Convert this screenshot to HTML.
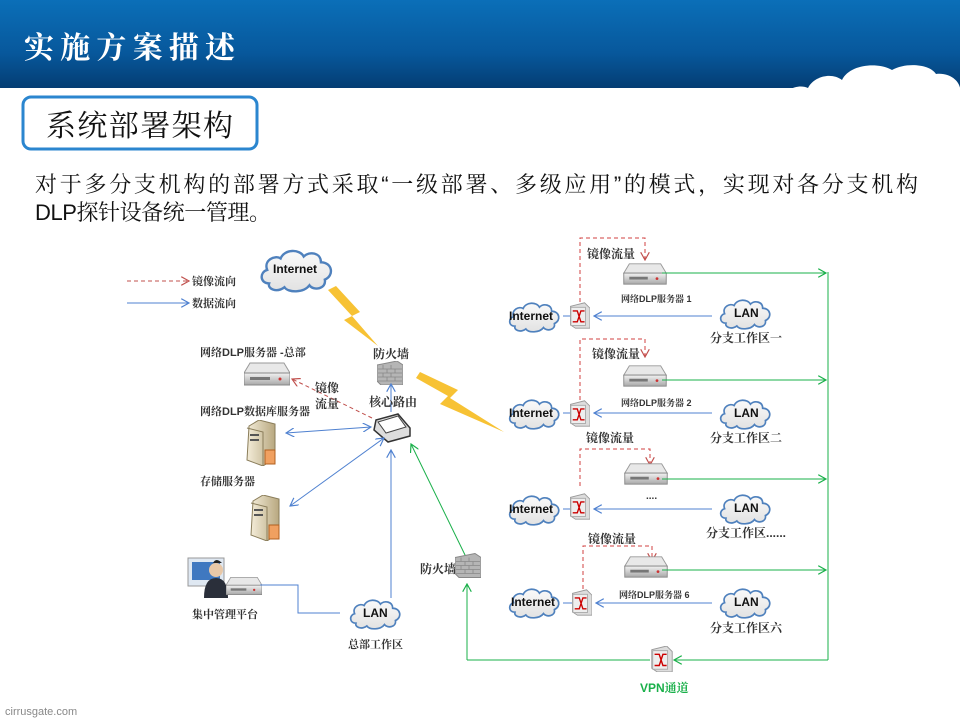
<!DOCTYPE html>
<html><head><meta charset="utf-8"><style>
html,body{margin:0;padding:0;background:#fff;width:960px;height:720px;overflow:hidden}
svg{display:block}
text{font-family:"Liberation Sans","Noto Serif CJK SC","Noto Sans CJK SC",serif}
.s{font-size:11px;font-weight:bold;fill:#333}
.m{font-size:12px;font-weight:bold;fill:#333}
.e{font-family:"Liberation Sans",sans-serif;font-weight:bold;font-size:12px;fill:#111}
</style></head><body>
<svg width="960" height="720" viewBox="0 0 960 720" xmlns="http://www.w3.org/2000/svg">
<defs>
<linearGradient id="hd" x1="0" y1="0" x2="0" y2="1"><stop offset="0" stop-color="#0b6fb8"/><stop offset="0.6" stop-color="#07589c"/><stop offset="1" stop-color="#043d73"/></linearGradient>
<linearGradient id="cl" x1="0" y1="0" x2="0" y2="1"><stop offset="0" stop-color="#fafafa"/><stop offset="1" stop-color="#e2e2e2"/></linearGradient>
<linearGradient id="sv" x1="0" y1="0" x2="0" y2="1"><stop offset="0" stop-color="#f2f2f2"/><stop offset="1" stop-color="#a8a8a8"/></linearGradient>
<linearGradient id="tw" x1="0" y1="0" x2="1" y2="0"><stop offset="0" stop-color="#f3ecd8"/><stop offset="1" stop-color="#b8a880"/></linearGradient>
<symbol id="cloud" viewBox="0 0 80 50"><path d="M12 40 C2 40 2 28 10 26 C6 16 18 10 24 14 C28 4 44 4 48 12 C54 6 66 8 66 18 C78 18 80 32 70 36 C72 46 58 48 54 42 C48 50 32 50 28 44 C20 50 10 46 12 40 Z" fill="url(#cl)" stroke="#4f81bd" stroke-width="2.5"/></symbol>
<symbol id="server" viewBox="0 0 46 26"><path d="M6 2 L40 2 L46 12 L0 12 Z" fill="#e8e8e8" stroke="#999"/><rect x="0" y="12" width="46" height="12" fill="url(#sv)" stroke="#888"/><rect x="6" y="16" width="20" height="3" fill="#777"/><circle cx="36" cy="18" r="1.5" fill="#c33"/></symbol>
<symbol id="tower" viewBox="0 0 32 46"><path d="M4 6 L14 0 L30 4 L30 38 L18 46 L2 40 Z" fill="url(#tw)" stroke="#8a7d5a"/><path d="M2 8 L18 12 L18 46" fill="none" stroke="#8a7d5a"/><rect x="5" y="14" width="9" height="2" fill="#555"/><rect x="5" y="19" width="9" height="2" fill="#555"/><rect x="20" y="30" width="10" height="14" fill="#f0a060" stroke="#b06020"/></symbol>
<symbol id="sw" viewBox="0 0 22 28"><path d="M0 4 L16 0 L22 6 L22 28 L6 28 L0 24 Z" fill="#ddd" stroke="#999"/><rect x="1" y="5" width="16" height="20" fill="#eee" stroke="#aaa"/><path d="M3 9 L8 9 L12 21 L16 21 M3 21 L8 21 L12 9 L16 9" fill="none" stroke="#c00" stroke-width="1.5"/></symbol>
<symbol id="fw" viewBox="0 0 26 24"><path d="M0 4 L20 0 L26 4 L26 24 L4 24 L0 20Z" fill="#b5b5b5" stroke="#888"/><g stroke="#888" stroke-width="0.8"><path d="M1 8H25M1 12H25M1 16H25M1 20H25M6 4V8M14 4V8M10 8V12M18 8V12M6 12V16M14 12V16M10 16V20M18 16V20"/></g></symbol>
<marker id="ab" viewBox="0 0 10 10" refX="9" refY="5" markerWidth="9" markerHeight="9" orient="auto-start-reverse"><path d="M0 0 L9 5 L0 10" fill="none" stroke="#4f81d0" stroke-width="1.3"/></marker>
<marker id="ag" viewBox="0 0 10 10" refX="9" refY="5" markerWidth="9" markerHeight="9" orient="auto-start-reverse"><path d="M0 0 L9 5 L0 10" fill="none" stroke="#1ab04a" stroke-width="1.3"/></marker>
<marker id="ar" viewBox="0 0 10 10" refX="9" refY="5" markerWidth="9" markerHeight="9" orient="auto-start-reverse"><path d="M0 0 L9 5 L0 10" fill="none" stroke="#c0504d" stroke-width="1.3"/></marker>
</defs>

<rect x="0" y="0" width="960" height="88" fill="url(#hd)"/>
<path d="M782 100 C784 88 800 84 808 88 C814 76 832 72 842 80 C850 64 878 62 892 70 C906 62 930 64 936 74 C952 72 962 84 960 92 L960 100 Z" fill="#fff"/>
<text x="24" y="58" font-size="30" font-weight="bold" fill="#fff" textLength="211" lengthAdjust="spacing">实施方案描述</text>

<rect x="23" y="97" width="234" height="52" rx="8" fill="#fff" stroke="#2b86cf" stroke-width="3"/>
<text x="46" y="136" font-size="30" fill="#111" textLength="187" lengthAdjust="spacing">系统部署架构</text>
<text x="35" y="192" font-size="22" fill="#111" textLength="883" lengthAdjust="spacing">对于多分支机构的部署方式采取“一级部署、多级应用”的模式，实现对各分支机构</text>
<text x="35" y="220" font-size="22" fill="#111" textLength="236" lengthAdjust="spacing">DLP探针设备统一管理。</text>

<!-- legend -->
<line x1="127" y1="281" x2="189" y2="281" stroke="#c0504d" stroke-dasharray="4,3" marker-end="url(#ar)"/>
<line x1="127" y1="303" x2="189" y2="303" stroke="#4f81d0" marker-end="url(#ab)"/>
<text x="192" y="285" class="s">镜像流向</text>
<text x="192" y="307" class="s">数据流向</text>

<!-- HQ -->
<use href="#cloud" x="256" y="245" width="80" height="48"/>
<text x="273" y="273" class="e">Internet</text>
<path d="M328 290 L336 286 L360 312 L352 316 L378 346 L344 320 L352 316 Z" fill="#f7c234"/>
<path d="M416 378 L420 372 L458 390 L450 398 L504 432 L440 404 L448 396 Z" fill="#f7c234"/>
<text x="373" y="358" class="m">防火墙</text>
<use href="#fw" x="377" y="361" width="26" height="24"/>
<line x1="391" y1="412" x2="391" y2="384" stroke="#4f81d0" marker-end="url(#ab)"/>
<text x="369" y="406" class="m">核心路由</text>
<path d="M376 420 L398 414 L410 428 L410 436 L388 442 L374 430 Z" fill="#ddd" stroke="#333" stroke-width="1.5"/>
<path d="M378 422 L398 416 L406 427 L386 433 Z" fill="#fff" stroke="#444"/>
<text x="200" y="356" class="s">网络DLP服务器 -总部</text>
<use href="#server" x="244" y="361" width="46" height="26"/>
<line x1="372" y1="418" x2="292" y2="379" stroke="#c0504d" stroke-dasharray="4,3" marker-end="url(#ar)"/>
<text x="315" y="392" class="m">镜像</text>
<text x="315" y="408" class="m">流量</text>
<text x="200" y="415" class="s">网络DLP数据库服务器</text>
<use href="#tower" x="245" y="420" width="32" height="46"/>
<line x1="286" y1="433" x2="371" y2="427" stroke="#4f81d0" marker-start="url(#ab)" marker-end="url(#ab)"/>
<text x="200" y="485" class="s">存储服务器</text>
<use href="#tower" x="249" y="495" width="32" height="46"/>
<line x1="290" y1="506" x2="384" y2="438" stroke="#4f81d0" marker-start="url(#ab)" marker-end="url(#ab)"/>
<line x1="391" y1="598" x2="391" y2="450" stroke="#4f81d0" marker-end="url(#ab)"/>
<!-- admin -->
<rect x="188" y="558" width="36" height="28" fill="#dfe8f2" stroke="#999"/>
<rect x="192" y="562" width="28" height="18" fill="#3f78c0"/>
<circle cx="216" cy="570" r="7" fill="#e8c8a8"/>
<path d="M213 563 Q216 557 222 563" fill="#222"/>
<path d="M204 598 Q204 578 216 578 Q228 578 228 598 Z" fill="#2a2f3a"/>
<use href="#server" x="226" y="574" width="36" height="24"/>
<text x="192" y="618" class="s">集中管理平台</text>
<path d="M260 585 L298 585 L298 613 L340 613" fill="none" stroke="#4f81d0"/>
<use href="#cloud" x="338" y="596" width="74" height="34"/>
<text x="363" y="617" class="e">LAN</text>
<text x="348" y="648" class="s">总部工作区</text>
<!-- firewall VPN -->
<line x1="466" y1="557" x2="411" y2="444" stroke="#1ab04a" marker-end="url(#ag)"/>
<text x="420" y="573" class="m">防火墙</text>
<use href="#fw" x="455" y="553" width="26" height="25"/>
<line x1="467" y1="660" x2="467" y2="584" stroke="#1ab04a" marker-end="url(#ag)"/>
<line x1="828" y1="272" x2="828" y2="660" stroke="#1ab04a"/>
<line x1="828" y1="660" x2="674" y2="660" stroke="#1ab04a" marker-end="url(#ag)"/>
<line x1="650" y1="660" x2="467" y2="660" stroke="#1ab04a"/>
<use href="#sw" x="651" y="646" width="22" height="26"/>
<text x="640" y="692" font-size="12" font-weight="bold" fill="#1ab04a">VPN通道</text>

<!-- branches -->
<use href="#cloud" x="503" y="299" width="62" height="34"/><text x="509" y="320" class="e">Internet</text>
<line x1="563" y1="316" x2="572" y2="316" stroke="#4f81d0"/>
<use href="#sw" x="570" y="302" width="20" height="27"/>
<line x1="712" y1="316" x2="594" y2="316" stroke="#4f81d0" marker-end="url(#ab)"/>
<use href="#cloud" x="710" y="296" width="70" height="34"/><text x="734" y="317" class="e">LAN</text>
<path d="M580 302 L580 238 L645 238 L645 260" fill="none" stroke="#d04040" stroke-dasharray="4,3" marker-end="url(#ar)"/>
<use href="#server" x="623" y="262" width="44" height="24"/>
<line x1="662" y1="273" x2="826" y2="273" stroke="#1ab04a" marker-end="url(#ag)"/>
<text x="587" y="258" class="m">镜像流量</text>
<text x="621" y="302" font-size="9" font-weight="bold" fill="#333">网络DLP服务器 1</text>
<text x="710" y="342" class="m">分支工作区一</text>

<use href="#cloud" x="503" y="396" width="62" height="34"/><text x="509" y="417" class="e">Internet</text>
<line x1="563" y1="413" x2="572" y2="413" stroke="#4f81d0"/>
<use href="#sw" x="570" y="400" width="20" height="27"/>
<line x1="712" y1="413" x2="594" y2="413" stroke="#4f81d0" marker-end="url(#ab)"/>
<use href="#cloud" x="710" y="396" width="70" height="34"/><text x="734" y="417" class="e">LAN</text>
<path d="M580 400 L580 339 L645 339 L645 357" fill="none" stroke="#d04040" stroke-dasharray="4,3" marker-end="url(#ar)"/>
<use href="#server" x="623" y="364" width="44" height="24"/>
<line x1="662" y1="380" x2="826" y2="380" stroke="#1ab04a" marker-end="url(#ag)"/>
<text x="592" y="358" class="m">镜像流量</text>
<text x="621" y="406" font-size="9" font-weight="bold" fill="#333">网络DLP服务器 2</text>
<text x="586" y="442" class="m">镜像流量</text>
<text x="710" y="442" class="m">分支工作区二</text>

<use href="#cloud" x="503" y="492" width="62" height="34"/><text x="509" y="513" class="e">Internet</text>
<line x1="563" y1="509" x2="572" y2="509" stroke="#4f81d0"/>
<use href="#sw" x="570" y="493" width="20" height="27"/>
<line x1="712" y1="509" x2="594" y2="509" stroke="#4f81d0" marker-end="url(#ab)"/>
<use href="#cloud" x="710" y="491" width="70" height="34"/><text x="734" y="512" class="e">LAN</text>
<path d="M580 486 L580 449 L650 449 L650 465" fill="none" stroke="#d04040" stroke-dasharray="4,3" marker-end="url(#ar)"/>
<use href="#server" x="624" y="462" width="44" height="24"/>
<line x1="662" y1="479" x2="826" y2="479" stroke="#1ab04a" marker-end="url(#ag)"/>
<text x="646" y="499" font-size="10" font-weight="bold" fill="#333">....</text>
<text x="706" y="537" class="m">分支工作区......</text>

<use href="#cloud" x="503" y="585" width="62" height="34"/><text x="511" y="606" class="e">Internet</text>
<line x1="563" y1="603" x2="572" y2="603" stroke="#4f81d0"/>
<use href="#sw" x="572" y="589" width="20" height="27"/>
<line x1="712" y1="603" x2="596" y2="603" stroke="#4f81d0" marker-end="url(#ab)"/>
<use href="#cloud" x="710" y="585" width="70" height="34"/><text x="734" y="606" class="e">LAN</text>
<path d="M583 589 L583 546 L652 546 L652 561" fill="none" stroke="#d04040" stroke-dasharray="4,3" marker-end="url(#ar)"/>
<use href="#server" x="624" y="555" width="44" height="24"/>
<line x1="662" y1="570" x2="826" y2="570" stroke="#1ab04a" marker-end="url(#ag)"/>
<text x="588" y="543" class="m">镜像流量</text>
<text x="619" y="598" font-size="9" font-weight="bold" fill="#333">网络DLP服务器 6</text>
<text x="710" y="632" class="m">分支工作区六</text>

<text x="5" y="715" font-size="11" fill="#888" font-family="Liberation Sans,sans-serif">cirrusgate.com</text>
</svg>
</body></html>
